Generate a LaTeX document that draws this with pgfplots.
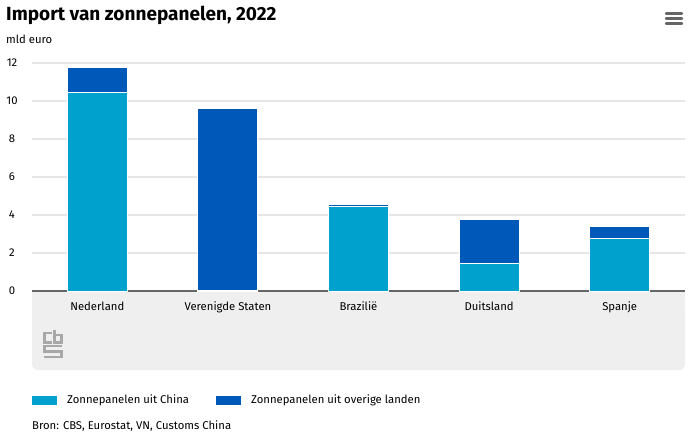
\documentclass[border=0pt]{standalone}
\usepackage{fontspec}
\setmainfont{Fira Sans}
\usepackage{pgfplots}
\pgfplotsset{compat=1.18}
\definecolor{china}{HTML}{00A1CD}
\definecolor{overig}{HTML}{0058B8}
\definecolor{band}{HTML}{EFEFEF}
\definecolor{gridc}{HTML}{E6E6E6}
\definecolor{axisline}{HTML}{666666}
\definecolor{logo}{HTML}{A8A8A8}
\newcommand{\txt}{\fontsize{11.3}{13}\selectfont}

\begin{document}
\begin{tikzpicture}[x=1pt,y=1pt]
\useasboundingbox (0,0) rectangle (690,442);
% grey band under the axis
\fill[band, rounded corners=6pt] (32,72) rectangle (685,140);
\fill[band] (32,120) rectangle (685,151);

\begin{axis}[
    at={(32pt,151pt)}, anchor=south west,
    scale only axis, width=653pt, height=228pt,
    xmin=-0.5, xmax=4.5, ymin=0, ymax=12,
    ybar stacked, bar width=60pt,
    axis line style={draw=none},
    major tick length=0pt,
    ytick={0,2,...,12},
    ymajorgrids, grid style={gridc, line width=1.5pt},
    xtick={0,1,2,3,4},
    xticklabels={Nederland, Verenigde Staten, Brazilië, Duitsland, Spanje},
    xticklabel style={anchor=base, yshift=-19pt, font=\txt},
    yticklabel style={anchor=center, xshift=-20pt, font=\txt},
    /pgf/number format/assume math mode=true,
    clip=false,
]
\addplot[fill=china, draw=white, line width=1pt] coordinates {(0,10.45) (1,0.05) (2,4.43) (3,1.46) (4,2.75)};
\addplot[fill=overig, draw=white, line width=1pt] coordinates {(0,1.30) (1,9.58) (2,0.10) (3,2.28) (4,0.62)};
\draw[axisline, line width=2.3pt] (axis cs:-0.5,0) -- (axis cs:4.5,0);
\end{axis}

% title and unit
\node[anchor=base west, inner sep=0, font=\fontsize{19}{22}\selectfont\bfseries] at (6,421) {Import van zonnepanelen, 2022};
\node[anchor=base west, inner sep=0, font=\txt] at (6,398) {mld euro};

% menu icon
\foreach \yy in {13.5,18.5,23.5}
  \draw[axisline, line width=2.4pt, line cap=round] (666,442-\yy) -- (682,442-\yy);

% cbs logo
\begin{scope}[logo, line width=2.2pt, double=band, double distance=0.8pt]
\draw (52,442-333) -- (44.5,442-333) -- (44.5,442-342.5) -- (52,442-342.5);
\draw (54.5,442-329.5) -- (54.5,442-342.5) -- (61.5,442-342.5) -- (61.5,442-335) -- (54.5,442-335);
\draw (61.5,442-346) -- (44.5,442-346) -- (44.5,442-351.5) -- (61.5,442-351.5) -- (61.5,442-357) -- (44,442-357);
\end{scope}

% legend
\fill[china] (32,37) rectangle (57,46.5);
\node[anchor=base west, inner sep=0, font=\txt] at (67,39) {Zonnepanelen uit China};
\fill[overig] (216,37) rectangle (241,46.5);
\node[anchor=base west, inner sep=0, font=\txt] at (251,39) {Zonnepanelen uit overige landen};

% source
\node[anchor=base west, inner sep=0, font=\txt] at (32,13) {Bron: CBS, Eurostat, VN, Customs China};
\end{tikzpicture}
\end{document}
